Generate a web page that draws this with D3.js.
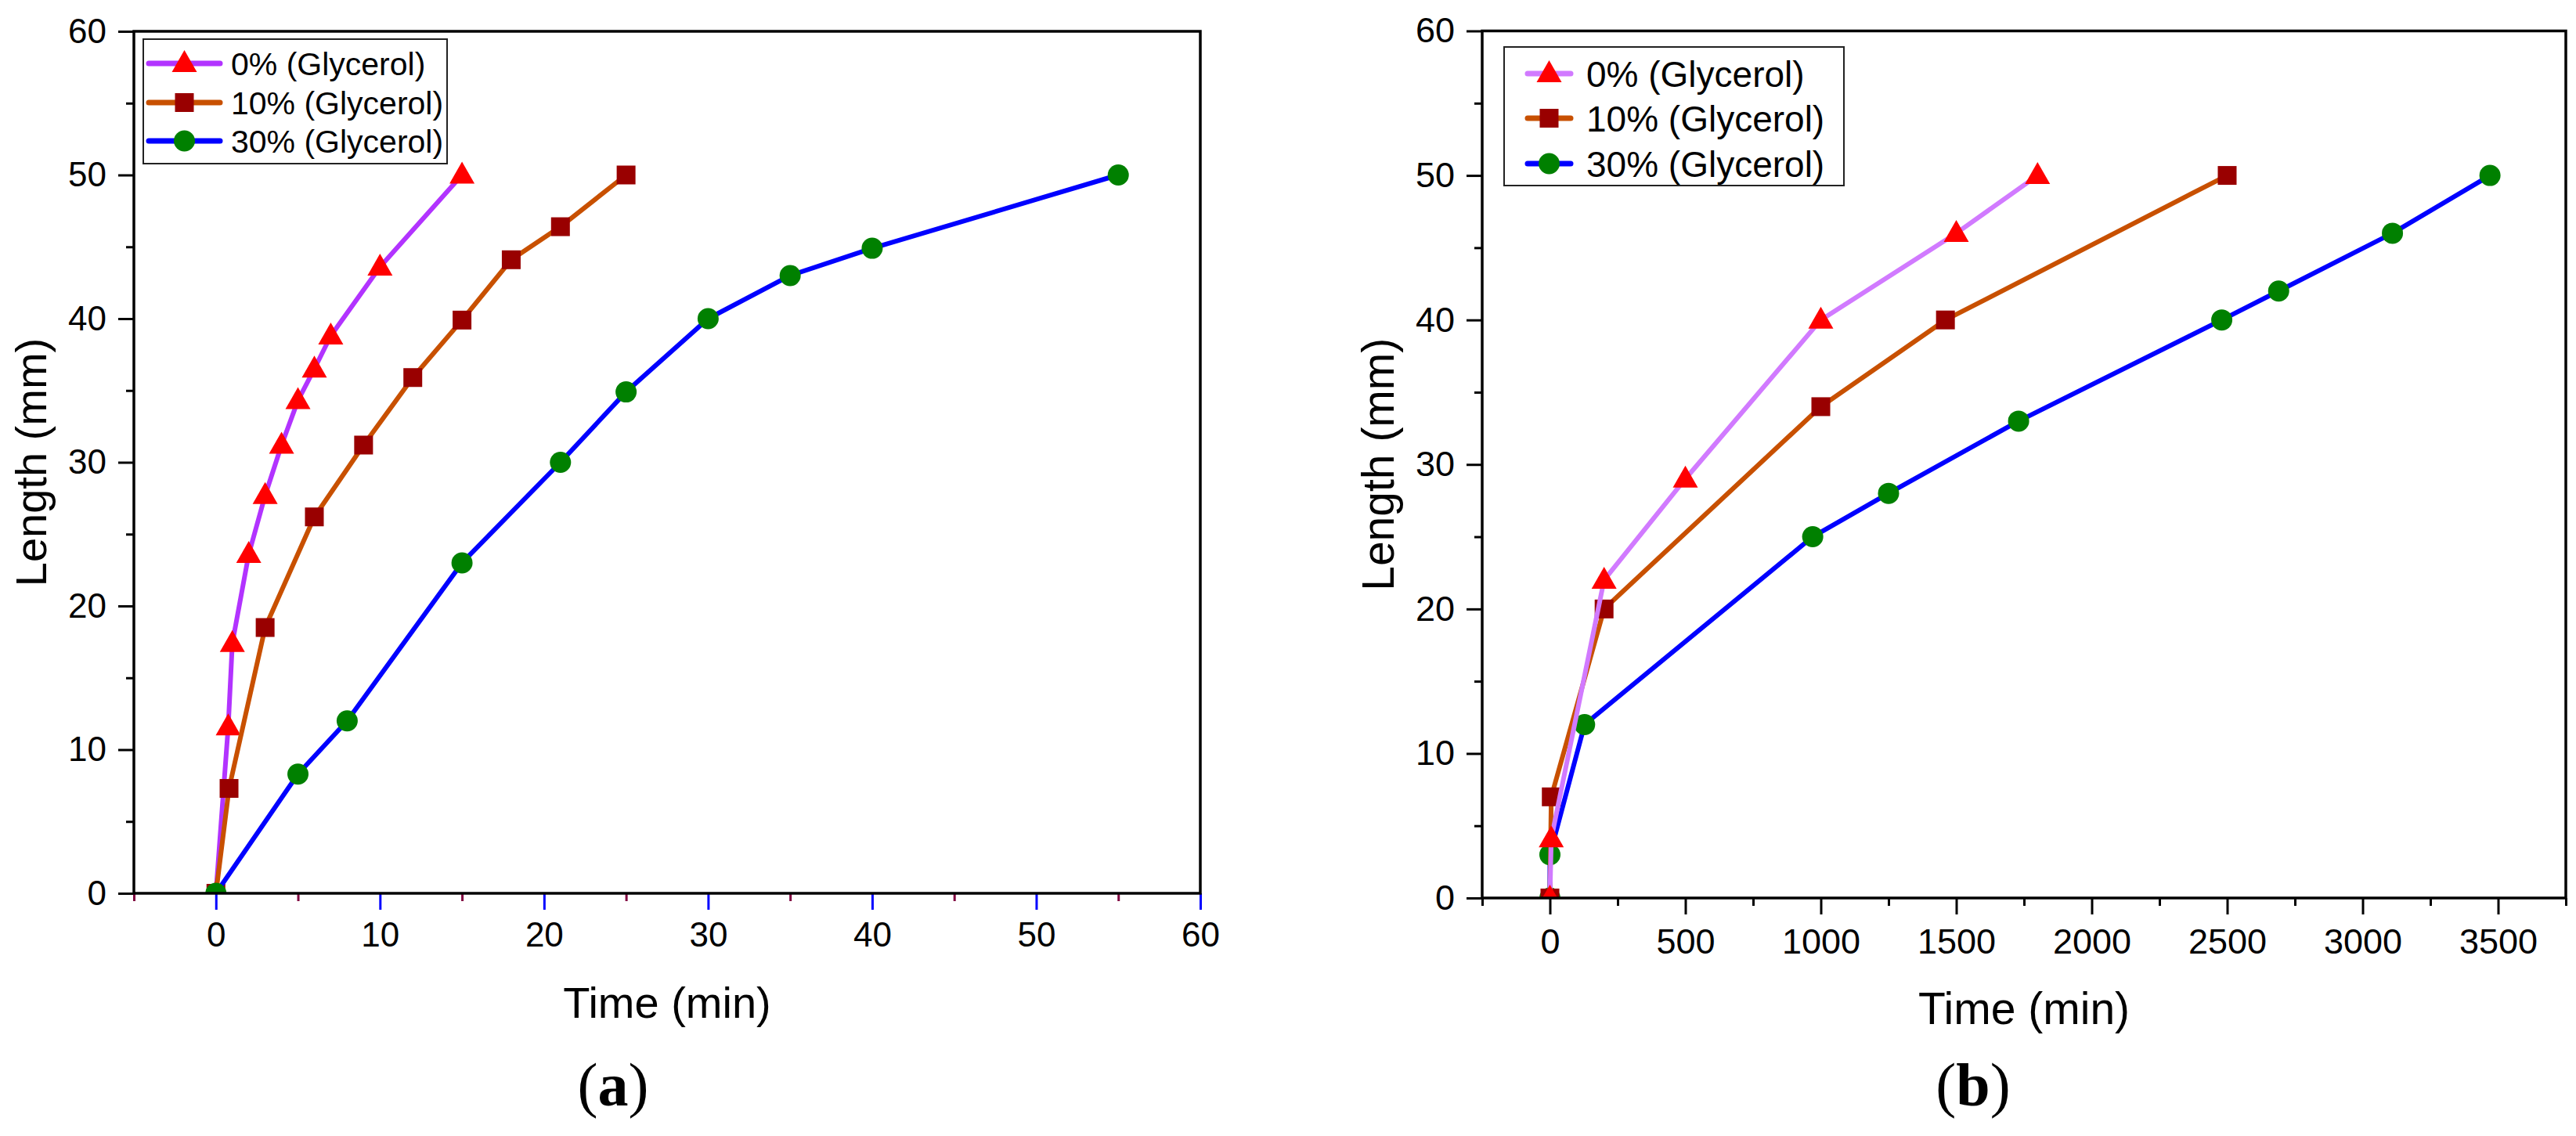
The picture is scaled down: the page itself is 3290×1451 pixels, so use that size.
<!DOCTYPE html>
<html>
<head>
<meta charset="utf-8">
<script src="https://cdn.jsdelivr.net/npm/d3@7"></script>
<style>
  body { margin: 0; background: #fff; }
  text { font-family: "Liberation Sans", Arial, sans-serif; fill: #000; }
  .panel-tag { font-family: "Liberation Serif", "Times New Roman", serif; }
</style>
</head>
<body>
<script>
// DATA
const seriesNames = ["0% (Glycerol)", "10% (Glycerol)", "30% (Glycerol)"];

// panel (a)
const timeA0 = [0, 0.75, 1, 2, 3, 4, 5, 6, 7, 10, 15];
const lenA0 = [0, 11.6, 17.4, 23.6, 27.7, 31.2, 34.3, 36.5, 38.8, 43.6, 50];
const timeA10 = [0, 0.8, 3, 6, 9, 12, 15, 18, 21, 25];
const lenA10 = [0, 7.3, 18.5, 26.2, 31.2, 35.9, 39.9, 44.1, 46.4, 50];
const timeA30 = [0, 5, 8, 15, 21, 25, 30, 35, 40, 55];
const lenA30 = [0, 8.3, 12, 23, 30, 34.9, 40, 43, 44.9, 50];
const xTicksA = [0, 10, 20, 30, 40, 50, 60];
const xMinorA = [-5, 5, 15, 25, 35, 45, 55];

// panel (b)
const timeB0 = [0, 5, 200, 500, 1000, 1500, 1800];
const lenB0 = [0, 4.1, 22, 29, 40, 46, 50];
const timeB10 = [0, 5, 200, 1000, 1460, 2500];
const lenB10 = [0, 7, 20, 34, 40, 50];
const timeB30 = [0, 0, 128, 970, 1250, 1730, 2480, 2690, 3110, 3470];
const lenB30 = [0, 3, 12, 25, 28, 33, 40, 42, 46, 50];
const xTicksB = [0, 500, 1000, 1500, 2000, 2500, 3000, 3500];
const xMinorB = [-250, 250, 750, 1250, 1750, 2250, 2750, 3250, 3750];

const yTicks = [0, 10, 20, 30, 40, 50, 60];
const yMinor = [5, 15, 25, 35, 45, 55];

// styles per series
const markerFill = ["#ff0000", "#990000", "#008000"];
const markerShape = ["triangle", "square", "circle"];

const svg = d3.select("body").append("svg")
  .attr("width", 3290)
  .attr("height", 1451);

svg.append("rect").attr("width", 3290).attr("height", 1451).attr("fill", "#fff");

function zip(xs, ys) {
  return xs.map((x, i) => ({ x, y: ys[i] }));
}

function marker(sel, shape, fill) {
  if (shape === "triangle") {
    sel.append("path").attr("d", "M0,-17L16,11L-16,11Z").attr("fill", fill);
  } else if (shape === "square") {
    sel.append("rect").attr("x", -12).attr("y", -12).attr("width", 24).attr("height", 24).attr("fill", fill);
  } else {
    sel.append("circle").attr("r", 13.5).attr("fill", fill);
  }
}

function drawPanel(cfg) {
  const x = d3.scaleLinear().domain(cfg.xDomain).range([cfg.left, cfg.right]);
  const y = d3.scaleLinear().domain([0, 60]).range([cfg.bottom, cfg.top]);
  const g = svg.append("g");

  const clipId = "clip-" + cfg.id;
  g.append("clipPath").attr("id", clipId)
    .append("rect")
    .attr("x", cfg.left).attr("y", cfg.top)
    .attr("width", cfg.right - cfg.left).attr("height", cfg.bottom - cfg.top);

  // y axis: major + minor ticks
  const yAxisG = g.append("g").attr("transform", `translate(${cfg.left},0)`)
    .call(d3.axisLeft(y).tickValues(yTicks).tickSize(20).tickPadding(15).tickFormat(d3.format("d")));
  yAxisG.select(".domain").remove();
  yAxisG.selectAll("line").attr("stroke", "#000").attr("stroke-width", 3);
  yAxisG.selectAll("text").style("font-size", cfg.tickFont + "px");

  const yMinorG = g.append("g").attr("transform", `translate(${cfg.left},0)`)
    .call(d3.axisLeft(y).tickValues(yMinor).tickSize(10).tickFormat(""));
  yMinorG.select(".domain").remove();
  yMinorG.selectAll("line").attr("stroke", "#000").attr("stroke-width", 3);

  // x axis: major + minor ticks
  const xAxisG = g.append("g").attr("transform", `translate(0,${cfg.bottom})`)
    .call(d3.axisBottom(x).tickValues(cfg.xTicks).tickSize(21).tickPadding(cfg.xPad).tickFormat(d3.format("d")));
  xAxisG.select(".domain").remove();
  xAxisG.selectAll("line").attr("stroke", cfg.majorTickColor).attr("stroke-width", 3);
  xAxisG.selectAll("text").style("font-size", cfg.tickFont + "px");

  const xMinorG = g.append("g").attr("transform", `translate(0,${cfg.bottom})`)
    .call(d3.axisBottom(x).tickValues(cfg.xMinor).tickSize(10).tickFormat(""));
  xMinorG.select(".domain").remove();
  xMinorG.selectAll("line").attr("stroke", cfg.minorTickColor).attr("stroke-width", 3);

  // series, drawn in the stacking order of the original
  const line = d3.line().x(d => x(d.x)).y(d => y(d.y));
  cfg.drawOrder.forEach(i => {
    const s = cfg.series[i];
    const pts = zip(s[0], s[1]);
    const sg = g.append("g").attr("clip-path", `url(#${clipId})`);
    sg.append("path")
      .datum(pts)
      .attr("d", line)
      .attr("fill", "none")
      .attr("stroke", cfg.lineColors[i])
      .attr("stroke-width", 6)
      .attr("stroke-linejoin", "round");
    sg.selectAll(".pt")
      .data(pts)
      .enter().append("g")
      .attr("class", "pt")
      .attr("transform", d => `translate(${x(d.x)},${y(d.y)})`)
      .each(function () { marker(d3.select(this), markerShape[i], markerFill[i]); });
  });

  // frame
  g.append("rect")
    .attr("x", cfg.left).attr("y", cfg.top)
    .attr("width", cfg.right - cfg.left).attr("height", cfg.bottom - cfg.top)
    .attr("fill", "none").attr("stroke", "#000").attr("stroke-width", 3.5);

  // legend
  const L = cfg.legend;
  g.append("rect")
    .attr("x", L.x0).attr("y", L.y0).attr("width", L.x1 - L.x0).attr("height", L.y1 - L.y0)
    .attr("fill", "#fff").attr("stroke", "#222").attr("stroke-width", 2);
  seriesNames.forEach((name, i) => {
    const ry = L.rows[i];
    g.append("line")
      .attr("x1", L.lx0).attr("x2", L.lx1).attr("y1", ry).attr("y2", ry)
      .attr("stroke", cfg.lineColors[i]).attr("stroke-width", 7).attr("stroke-linecap", "round");
    const mg = g.append("g").attr("transform", `translate(${(L.lx0 + L.lx1) / 2},${ry})`);
    marker(mg, markerShape[i], markerFill[i]);
    g.append("text")
      .attr("x", L.tx).attr("y", ry).attr("dy", "0.36em")
      .style("font-size", L.font + "px")
      .text(name);
  });

  // axis titles
  g.append("text")
    .attr("x", (cfg.left + cfg.right) / 2).attr("y", cfg.xTitleY)
    .attr("text-anchor", "middle")
    .style("font-size", cfg.titleFont + "px")
    .text("Time (min)");

  g.append("text")
    .attr("transform", `translate(${cfg.yTitleX},${(cfg.top + cfg.bottom) / 2}) rotate(-90)`)
    .attr("text-anchor", "middle")
    .style("font-size", cfg.titleFont + "px")
    .text("Length (mm)");

  // panel tag
  const tag = g.append("text")
    .attr("class", "panel-tag")
    .attr("x", cfg.tagX).attr("y", 1412)
    .attr("text-anchor", "middle")
    .style("font-size", "78px");
  tag.append("tspan").text("(");
  tag.append("tspan").style("font-weight", "bold").text(cfg.tag);
  tag.append("tspan").text(")");
}

drawPanel({
  id: "a",
  xDomain: [-5, 60], left: 171, right: 1533, top: 40, bottom: 1141,
  xTicks: xTicksA, xMinor: xMinorA,
  majorTickColor: "#0000ff", minorTickColor: "#800040",
  tickFont: 44, titleFont: 56, xPad: 16,
  lineColors: ["#b233ff", "#c85000", "#0000ff"],
  series: [[timeA0, lenA0], [timeA10, lenA10], [timeA30, lenA30]],
  drawOrder: [0, 1, 2],
  legend: { x0: 183, y0: 50, x1: 571, y1: 209, rows: [81, 131, 180], lx0: 190, lx1: 281, tx: 295, font: 41 },
  xTitleY: 1300, yTitleX: 59,
  tag: "a", tagX: 783
});

drawPanel({
  id: "b",
  xDomain: [-250, 3750], left: 1893, right: 3277, top: 39.5, bottom: 1147,
  xTicks: xTicksB, xMinor: xMinorB,
  majorTickColor: "#000", minorTickColor: "#000",
  tickFont: 45, titleFont: 57, xPad: 18,
  lineColors: ["#d17aff", "#c85000", "#0000ff"],
  series: [[timeB0, lenB0], [timeB10, lenB10], [timeB30, lenB30]],
  drawOrder: [2, 1, 0],
  legend: { x0: 1921, y0: 60, x1: 2355, y1: 237, rows: [94, 151, 209], lx0: 1951, lx1: 2006, tx: 2026, font: 46 },
  xTitleY: 1308, yTitleX: 1780,
  tag: "b", tagX: 2520
});
</script>
</body>
</html>
